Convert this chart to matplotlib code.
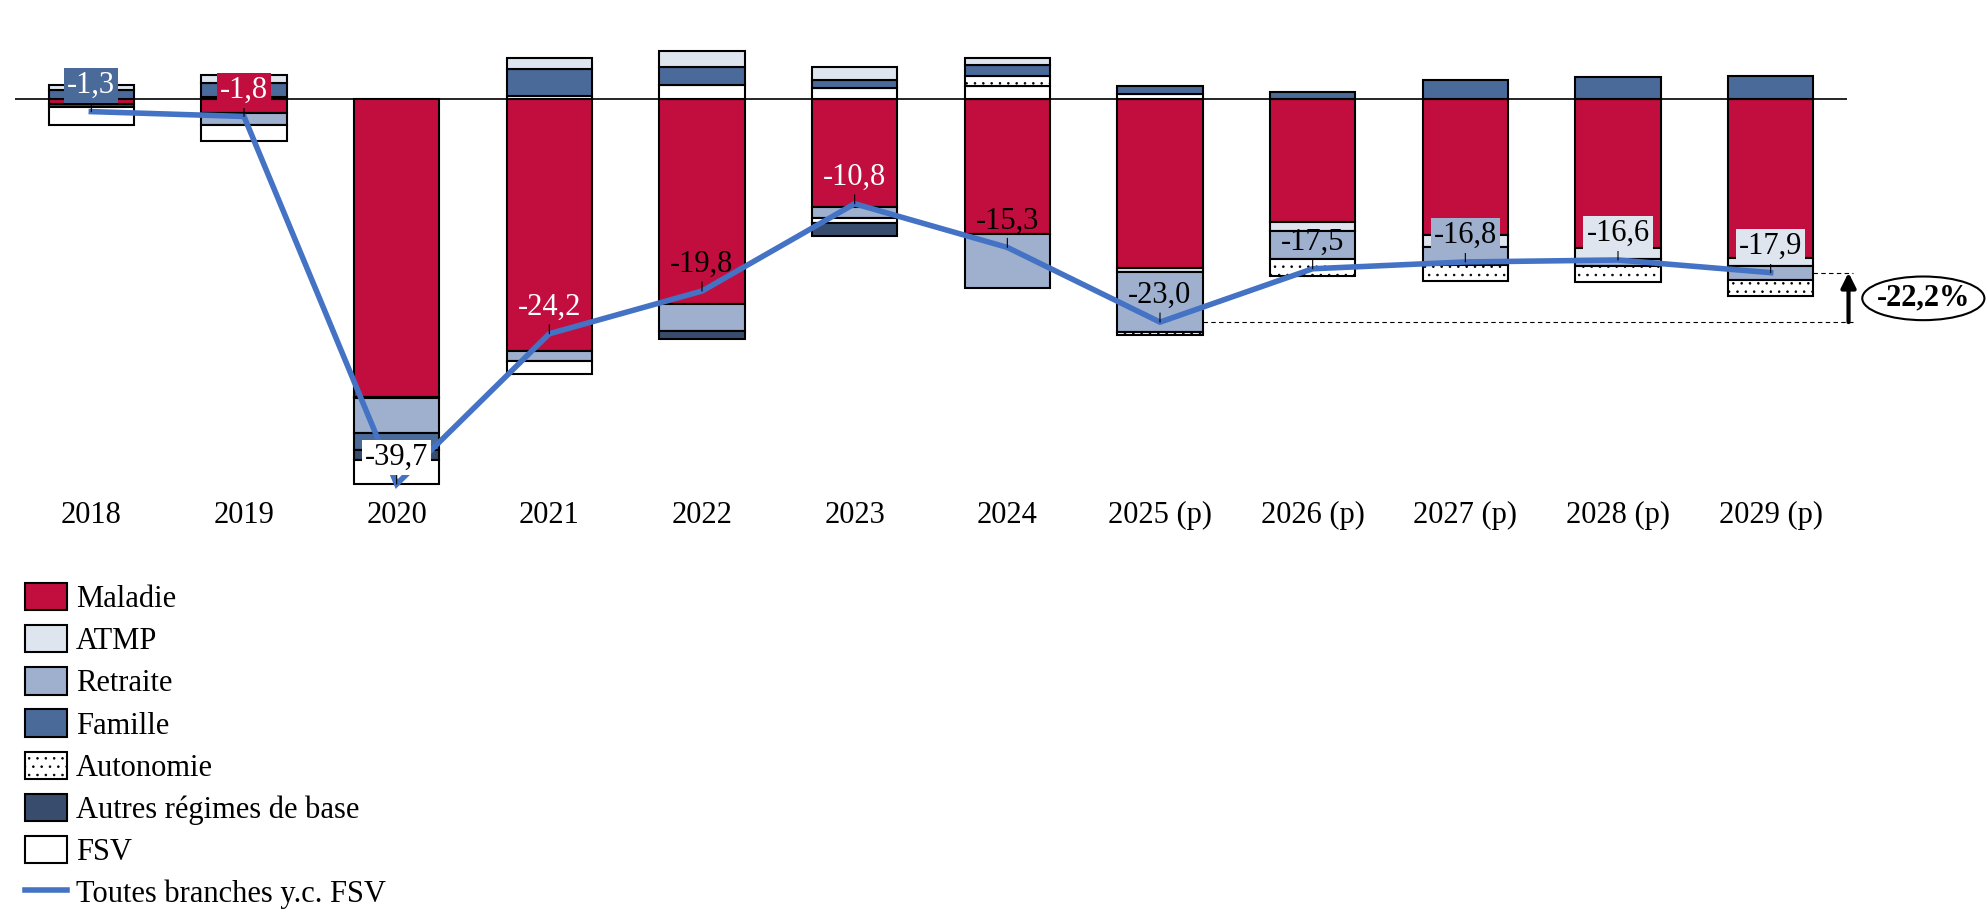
import matplotlib
matplotlib.use("Agg")
from matplotlib import pyplot as plt
from matplotlib.patches import Patch, Ellipse
from matplotlib.lines import Line2D
import numpy as np

plt.rcParams['font.family'] = ['Liberation Serif', 'DejaVu Serif']
plt.rcParams['hatch.linewidth'] = 0.6

annees = ['2018', '2019', '2020', '2021', '2022', '2023', '2024',
          '2025 (p)', '2026 (p)', '2027 (p)', '2028 (p)', '2029 (p)']

# soldes par branche (Md€)
maladie = [-0.5, -1.4, -30.7, -26.0, -21.1, -11.1, -13.9, -17.4, -12.7, -14.0, -15.4, -16.4]
atmp = [0.5, 0.8, -0.1, 1.1, 1.6, 1.3, 0.7, -0.4, -0.9, -1.3, -1.1, -0.85]
retraite = [0.0, -1.3, -3.6, -1.0, -2.8, -1.2, -5.6, -6.2, -2.9, -1.8, -0.7, -1.45]
famille = [0.9, 1.5, -1.8, 2.8, 1.9, 0.9, 1.1, 0.8, 0.7, 2.0, 2.3, 2.4]
autonomie = [0.0, 0.0, 0.0, 0.3, 0.0, -0.5, 1.1, -0.3, -1.7, -1.7, -1.7, -1.6]
autres = [-0.3, 0.2, -1.0, 0.0, -0.8, -1.3, 0.0, 0.0, 0.0, 0.0, 0.0, 0.0]
fsv = [-1.9, -1.6, -2.5, -1.4, 1.4, 1.1, 1.3, 0.5, 0.0, 0.0, 0.0, 0.0]

total = [-1.3, -1.8, -39.7, -24.2, -19.8, -10.8, -15.3, -23.0, -17.5, -16.8, -16.6, -17.9]
total_txt = ['-1,3', '-1,8', '-39,7', '-24,2', '-19,8', '-10,8', '-15,3',
             '-23,0', '-17,5', '-16,8', '-16,6', '-17,9']

c_mal = '#C20E3E'
c_atmp = '#DEE5EF'
c_ret = '#9EB0CE'
c_fam = '#4A6A99'
c_aut = '#384D6E'

branches = [
    ('Maladie', maladie, c_mal, None),
    ('ATMP', atmp, c_atmp, None),
    ('Retraite', retraite, c_ret, None),
    ('Famille', famille, c_fam, None),
    ('Autonomie', autonomie, 'white', '..'),
    ('Autres régimes de base', autres, c_aut, None),
    ('FSV', fsv, 'white', None),
]

fs = 22

fig = plt.figure(figsize=(19.86, 9.24), dpi=100)
ax = fig.add_axes([15 / 1986, 1 - 490 / 924, 1832 / 1986, 460 / 924])

x = np.arange(len(annees))
w = 0.56
lw = 1.5

ax.axhline(0, color='black', lw=1.2, zorder=1)

# negatifs empiles vers le bas
bas = np.zeros(len(x))
for nom, vals, col, hat in branches:
    v = np.array(vals)
    m = v < 0
    ax.bar(x[m], v[m], w, bottom=bas[m], color=col, edgecolor='black',
           linewidth=lw, hatch=hat, zorder=2)
    bas[m] += v[m]

# positifs empiles vers le haut (ordre inverse)
haut = np.zeros(len(x))
for nom, vals, col, hat in branches[::-1]:
    v = np.array(vals)
    m = v > 0
    ax.bar(x[m], v[m], w, bottom=haut[m], color=col, edgecolor='black',
           linewidth=lw, hatch=hat, zorder=2)
    haut[m] += v[m]

ax.plot(x, total, color='#4472C4', lw=4, zorder=3, solid_joinstyle='miter')

# etiquettes
fond = [c_fam, c_mal, 'white', None, None, None, None, None, None, c_ret, c_atmp, c_atmp]
coul = ['white', 'white', 'black', 'white', 'black', 'white', 'black',
        'black', 'black', 'black', 'black', 'black']
for i in range(len(x)):
    bb = None
    if fond[i] is not None:
        bb = dict(boxstyle='square,pad=0.1', fc=fond[i], ec='none')
    ax.annotate(total_txt[i], xy=(x[i], total[i]), xytext=(0, 19),
                textcoords='offset points', ha='center', va='center',
                fontsize=fs, color=coul[i], bbox=bb, zorder=5,
                arrowprops=dict(arrowstyle='-', lw=0.8, color='black',
                                shrinkA=0, shrinkB=0))

# evolution 2025 -> 2029
ax.plot([7 + w / 2, 11.54], [total[7], total[7]], color='black', lw=0.8,
        ls=(0, (4, 3)), clip_on=False, zorder=1)
ax.plot([11 + w / 2, 11.54], [total[11], total[11]], color='black', lw=0.8,
        ls=(0, (4, 3)), clip_on=False, zorder=1)
ax.annotate('', xy=(11.51, total[11]), xytext=(11.51, total[7]),
            arrowprops=dict(arrowstyle='-|>', lw=3, color='black',
                            mutation_scale=22, shrinkA=0, shrinkB=0),
            annotation_clip=False)
ax.add_patch(Ellipse((12.0, -20.55), 0.80, 4.5, fc='white', ec='black',
                     lw=1.5, clip_on=False, zorder=4))
ax.text(12.0, -20.55, '-22,2%', ha='center', va='center', fontsize=fs,
        fontweight='bold', zorder=5, clip_on=False)

ax.set_xlim(-0.5, 11.5)
ax.set_ylim(-(490 - 99) / 9.7, (99 - 30) / 9.7)
ax.set_xticks(x)
ax.set_xticklabels(annees, fontsize=fs)
ax.tick_params(axis='x', length=0, pad=8)
ax.set_yticks([])
for s in ax.spines.values():
    s.set_visible(False)

handles = [Patch(facecolor=col, edgecolor='black', linewidth=lw, hatch=hat, label=nom)
           for nom, vals, col, hat in branches]
handles.append(Line2D([0], [0], color='#4472C4', lw=4,
                      label='Toutes branches y.c. FSV'))
fig.legend(handles=handles, loc='upper left', bbox_to_anchor=(25 / 1986, 1 - 583 / 924),
           frameon=False, fontsize=fs, handlelength=1.36, handleheight=1.0,
           labelspacing=0.36, handletextpad=0.3, borderpad=0, borderaxespad=0)

fig.savefig('out.png', dpi=100)
